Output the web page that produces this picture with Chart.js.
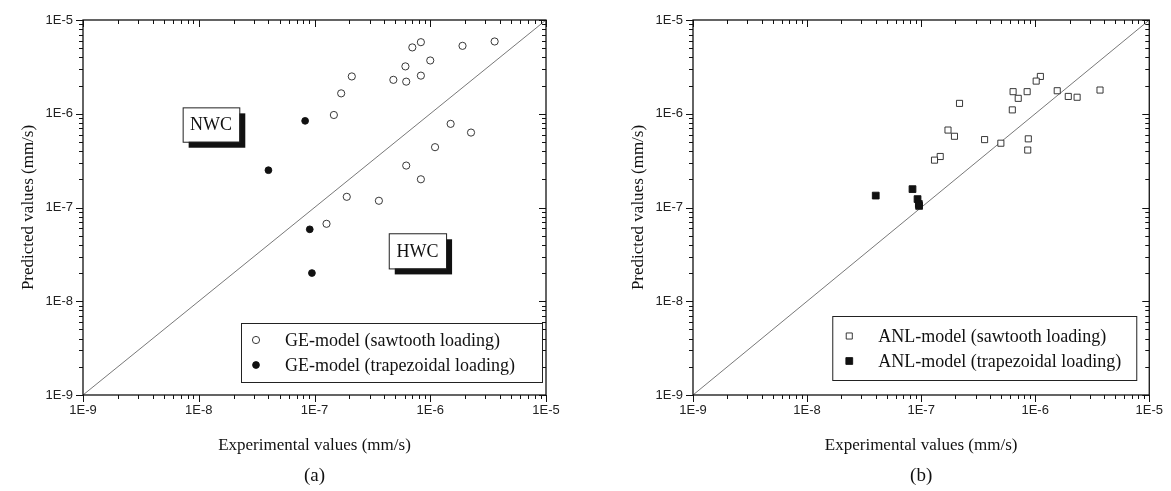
<!DOCTYPE html>
<html>
<head>
<meta charset="utf-8">
<script src="https://cdn.jsdelivr.net/npm/chart.js@4/dist/chart.umd.min.js"></script>
<style>
  html, body { margin: 0; padding: 0; background: #fff; }
  #wrap { position: relative; width: 1171px; height: 491px; }
  .panel { position: absolute; top: 0; height: 491px; }
  #panelA { left: 0; width: 585px; }
  #panelB { left: 585px; width: 586px; }
</style>
</head>
<body>
<div id="wrap">
  <div class="panel" id="panelA"><canvas id="chartA"></canvas></div>
  <div class="panel" id="panelB"><canvas id="chartB"></canvas></div>
</div>
<script>
'use strict';

// decade ticks shared by both log axes
var axisDecades = [1e-9, 1e-8, 1e-7, 1e-6, 1e-5];
var decadeLabels = ['1E-9', '1E-8', '1E-7', '1E-6', '1E-5'];

// (a) GE-model, sawtooth loading (experimental vs predicted, mm/s)
var geSawExp  = [8.3e-7, 7.0e-7, 1.9e-6, 3.6e-6, 1.0e-6, 6.1e-7, 2.1e-7, 4.8e-7, 6.2e-7, 8.3e-7,
                 1.7e-7, 1.47e-7, 1.5e-6, 2.25e-6, 1.1e-6, 6.2e-7, 8.3e-7, 1.9e-7, 3.6e-7, 1.27e-7];
var geSawPred = [5.8e-6, 5.1e-6, 5.3e-6, 5.9e-6, 3.7e-6, 3.2e-6, 2.5e-6, 2.3e-6, 2.2e-6, 2.55e-6,
                 1.65e-6, 9.7e-7, 7.8e-7, 6.3e-7, 4.4e-7, 2.8e-7, 2.0e-7, 1.3e-7, 1.18e-7, 6.7e-8];
// (a) GE-model, trapezoidal loading
var geTrapExp  = [8.3e-8, 4.0e-8, 9.1e-8, 9.5e-8];
var geTrapPred = [8.4e-7, 2.5e-7, 5.85e-8, 2.0e-8];

// (b) ANL-model, sawtooth loading
var anlSawExp  = [1.11e-6, 1.02e-6, 6.4e-7, 8.5e-7, 7.1e-7, 1.56e-6, 1.95e-6, 2.33e-6, 3.7e-6, 2.17e-7,
                  6.3e-7, 1.72e-7, 1.96e-7, 3.6e-7, 5.0e-7, 8.7e-7, 8.6e-7, 1.47e-7, 1.31e-7];
var anlSawPred = [2.5e-6, 2.23e-6, 1.72e-6, 1.72e-6, 1.46e-6, 1.76e-6, 1.53e-6, 1.5e-6, 1.79e-6, 1.29e-6,
                  1.1e-6, 6.7e-7, 5.75e-7, 5.3e-7, 4.85e-7, 5.4e-7, 4.1e-7, 3.5e-7, 3.2e-7];
// (b) ANL-model, trapezoidal loading
var anlTrapExp  = [4.0e-8, 8.4e-8, 9.3e-8, 9.55e-8, 9.6e-8];
var anlTrapPred = [1.34e-7, 1.57e-7, 1.23e-7, 1.09e-7, 1.04e-7];

var SERIF = '"Liberation Serif", "Times New Roman", serif';
var NARROW = '"Liberation Sans Narrow", "Liberation Sans", Arial, sans-serif';

function toPoints(xs, ys) {
    return xs.map(function(x, i) { return {x: x, y: ys[i]}; });
}

function decadeLabel(v) {
    for (var i = 0; i < axisDecades.length; i++) {
        if (Math.abs(v / axisDecades[i] - 1) < 1e-6) return decadeLabels[i];
    }
    return '';
}

// frame, Origin-style ticks, text boxes, framed legend and caption
var plotExtras = {
    id: 'plotExtras',
    afterDraw: function(chart, args, opts) {
        var ctx = chart.ctx;
        var a = chart.chartArea;
        var xs = chart.scales.x, ys = chart.scales.y;
        ctx.save();

        ctx.strokeStyle = '#111';
        ctx.lineWidth = 1.3;
        ctx.strokeRect(a.left, a.top, a.right - a.left, a.bottom - a.top);

        ctx.lineWidth = 1;
        ctx.beginPath();
        for (var d = 0; d < axisDecades.length; d++) {
            for (var m = 1; m <= 9; m++) {
                if (d === axisDecades.length - 1 && m > 1) break;
                var v = axisDecades[d] * m;
                var len = m === 1 ? 7 : 4;
                var px = Math.round(xs.getPixelForValue(v)) + 0.5;
                var py = Math.round(ys.getPixelForValue(v)) + 0.5;
                // bottom / left point outward, top / right point inward
                ctx.moveTo(px, a.bottom); ctx.lineTo(px, a.bottom + len);
                ctx.moveTo(px, a.top); ctx.lineTo(px, a.top + len);
                ctx.moveTo(a.left, py); ctx.lineTo(a.left - len, py);
                ctx.moveTo(a.right, py); ctx.lineTo(a.right - len, py);
            }
        }
        ctx.stroke();

        // NWC / HWC boxes with drop shadow
        (opts.boxes || []).forEach(function(b) {
            var x0 = xs.getPixelForValue(b.x0), x1 = xs.getPixelForValue(b.x1);
            var y0 = ys.getPixelForValue(b.y0), y1 = ys.getPixelForValue(b.y1);
            ctx.fillStyle = '#111';
            ctx.fillRect(x0 + 6, y0 + 6, x1 - x0, y1 - y0);
            ctx.fillStyle = '#fff';
            ctx.fillRect(x0, y0, x1 - x0, y1 - y0);
            ctx.strokeStyle = '#222';
            ctx.lineWidth = 1;
            ctx.strokeRect(x0 + 0.5, y0 + 0.5, x1 - x0, y1 - y0);
            ctx.fillStyle = '#111';
            ctx.font = '18px ' + SERIF;
            ctx.textAlign = 'center';
            ctx.textBaseline = 'middle';
            ctx.fillText(b.text, (x0 + x1) / 2, (y0 + y1) / 2 + 1);
        });

        // legend framed inside the plot
        var lg = opts.legend;
        if (lg) {
            var lx = a.right - lg.right - lg.width;
            var ly = a.bottom - lg.bottom - lg.height;
            ctx.fillStyle = '#fff';
            ctx.fillRect(lx, ly, lg.width, lg.height);
            ctx.strokeStyle = '#222';
            ctx.lineWidth = 1;
            ctx.strokeRect(lx + 0.5, ly + 0.5, lg.width, lg.height);
            var row = 0;
            chart.data.datasets.forEach(function(ds) {
                if (ds.showLine) return;
                var cy = ly + lg.firstRow + row * lg.rowGap;
                ctx.fillStyle = ds.backgroundColor;
                ctx.strokeStyle = ds.borderColor;
                ctx.lineWidth = ds.borderWidth;
                Chart.helpers.drawPoint(ctx, {
                    pointStyle: ds.pointStyle, radius: ds.pointRadius,
                    rotation: 0, borderWidth: ds.borderWidth
                }, lx + lg.symbolX, cy);
                ctx.fillStyle = '#111';
                ctx.font = '18px ' + SERIF;
                ctx.textAlign = 'left';
                ctx.textBaseline = 'middle';
                ctx.fillText(ds.label, lx + lg.textX, cy + 1);
                row++;
            });
        }

        if (opts.caption) {
            ctx.fillStyle = '#111';
            ctx.font = '19px ' + SERIF;
            ctx.textAlign = 'center';
            ctx.textBaseline = 'middle';
            ctx.fillText(opts.caption, (a.left + a.right) / 2, 476);
        }
        ctx.restore();
    }
};

function logAxis(title, isY) {
    var axis = {
        type: 'logarithmic',
        min: 1e-9,
        max: 1e-5,
        grid: { display: false, drawTicks: false },
        border: { display: false },
        ticks: {
            autoSkip: false,
            maxRotation: 0,
            color: '#222',
            font: { family: NARROW, size: 13 },
            padding: isY ? 10 : 8,
            callback: function(v) { return decadeLabel(v); }
        },
        title: {
            display: true,
            text: title,
            color: '#111',
            font: { family: SERIF, size: 17 },
            padding: isY ? { top: 18, bottom: 0 } : { top: 0, bottom: 35 }
        },
        afterFit: function(scale) {
            if (isY) scale.width = 83; else scale.height = 96;
        }
    };
    return axis;
}

function makeChart(canvasId, sets, extras, padLeft, padRight) {
    var ctx = document.getElementById(canvasId).getContext('2d');
    return new Chart(ctx, {
        type: 'scatter',
        data: {
            datasets: [
                {
                    label: sets.openLabel,
                    data: toPoints(sets.openX, sets.openY),
                    pointStyle: sets.style,
                    pointRadius: sets.openRadius,
                    borderWidth: 0.9,
                    borderColor: '#222',
                    backgroundColor: '#fff'
                },
                {
                    label: sets.filledLabel,
                    data: toPoints(sets.filledX, sets.filledY),
                    pointStyle: sets.style,
                    pointRadius: sets.filledRadius,
                    borderWidth: 0.9,
                    borderColor: '#111',
                    backgroundColor: '#111'
                },
                {
                    label: 'y = x',
                    data: toPoints([axisDecades[0], axisDecades[4]], [axisDecades[0], axisDecades[4]]),
                    showLine: true,
                    pointRadius: 0,
                    borderWidth: 0.8,
                    borderColor: '#555',
                    order: 5
                }
            ]
        },
        options: {
            responsive: true,
            maintainAspectRatio: false,
            animation: false,
            events: [],
            layout: { padding: { top: 20, right: padRight, left: padLeft, bottom: 0 } },
            scales: {
                x: logAxis('Experimental values (mm/s)', false),
                y: logAxis('Predicted values (mm/s)', true)
            },
            plugins: {
                legend: { display: false },
                tooltip: { enabled: false },
                plotExtras: extras
            }
        },
        plugins: [plotExtras]
    });
}

makeChart('chartA', {
    openLabel: 'GE-model (sawtooth loading)',
    filledLabel: 'GE-model (trapezoidal loading)',
    openX: geSawExp, openY: geSawPred,
    filledX: geTrapExp, filledY: geTrapPred,
    style: 'circle', openRadius: 3.6, filledRadius: 3.4
}, {
    boxes: [
        { text: 'NWC', x0: 7.26e-9, x1: 2.24e-8, y0: 1.17e-6, y1: 5.03e-7 },
        { text: 'HWC', x0: 4.38e-7, x1: 1.37e-6, y0: 5.31e-8, y1: 2.24e-8 }
    ],
    legend: { right: 4, bottom: 13, width: 301, height: 59, symbolX: 15, textX: 44, firstRow: 17, rowGap: 25 },
    caption: '(a)'
}, 0, 39);

makeChart('chartB', {
    openLabel: 'ANL-model (sawtooth loading)',
    filledLabel: 'ANL-model (trapezoidal loading)',
    openX: anlSawExp, openY: anlSawPred,
    filledX: anlTrapExp, filledY: anlTrapPred,
    style: 'rect', openRadius: 4.3, filledRadius: 4.8
}, {
    legend: { right: 13, bottom: 15, width: 304, height: 64, symbolX: 17, textX: 46, firstRow: 20, rowGap: 25 },
    caption: '(b)'
}, 25, 17);
</script>
</body>
</html>
